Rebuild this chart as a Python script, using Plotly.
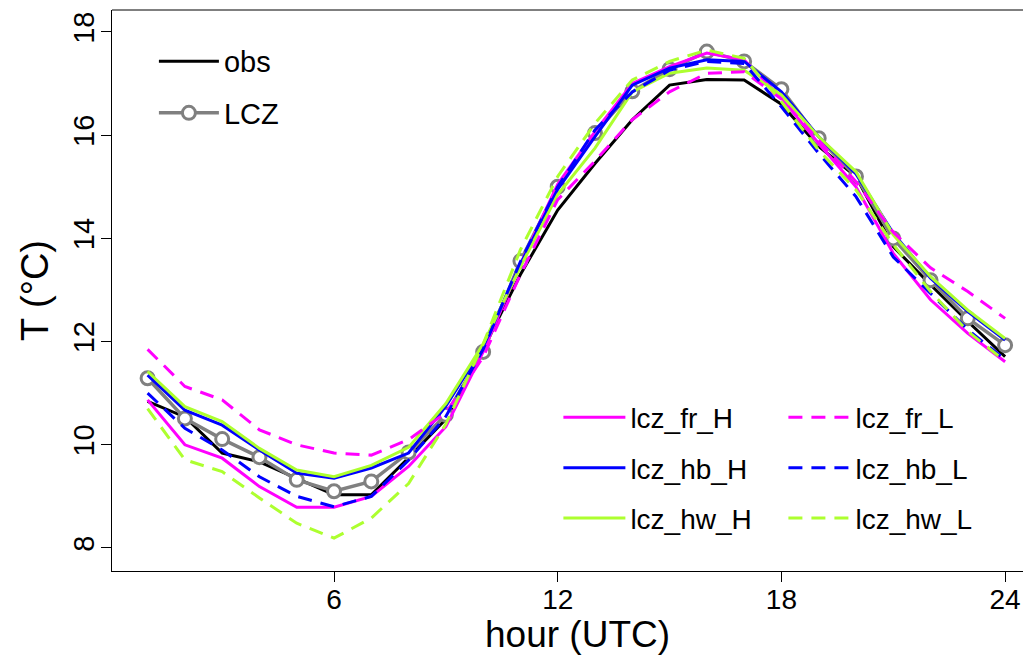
import plotly.graph_objects as go

hours = list(range(1, 25))

obs = [10.84, 10.54, 9.84, 9.67, 9.35, 9.03, 9.03, 9.75, 10.5, 11.85, 13.3, 14.55,
       15.45, 16.3, 16.97, 17.08, 17.07, 16.6, 15.78, 15.2, 13.84, 13.1, 12.39, 11.71]
lcz = [11.29, 10.51, 10.11, 9.76, 9.32, 9.10, 9.29, 9.85, 10.58, 11.80, 13.56, 15.0,
       16.04, 16.85, 17.28, 17.62, 17.43, 16.89, 15.94, 15.2, 14.0, 13.19, 12.45, 11.93]
lcz_fr_H = [10.87, 10.0, 9.74, 9.19, 8.79, 8.79, 9.0, 9.58, 10.35, 11.8, 13.5, 15.05,
            16.07, 17.0, 17.33, 17.59, 17.46, 16.72, 15.84, 15.0, 13.71, 12.81, 12.16, 11.61]
lcz_fr_L = [11.85, 11.13, 10.87, 10.29, 10.0, 9.84, 9.8, 10.1, 10.62, 11.7, 13.3, 14.75,
            15.5, 16.3, 16.84, 17.2, 17.23, 16.7, 15.9, 15.1, 14.12, 13.43, 12.97, 12.45]
lcz_hb_H = [11.35, 10.67, 10.38, 9.9, 9.45, 9.35, 9.55, 9.84, 10.75, 11.9, 13.5, 14.95,
            15.97, 16.97, 17.3, 17.46, 17.43, 16.84, 15.97, 15.25, 14.1, 13.23, 12.58, 12.03]
lcz_hb_L = [11.0, 10.32, 9.9, 9.38, 9.0, 8.8, 9.0, 9.7, 10.55, 11.85, 13.55, 15.0,
            16.1, 16.84, 17.26, 17.43, 17.39, 16.55, 15.65, 14.81, 13.64, 12.94, 12.23, 11.65]
lcz_hw_H = [11.42, 10.74, 10.45, 9.93, 9.51, 9.38, 9.6, 9.95, 10.8, 11.95, 13.45, 14.85,
            15.75, 16.84, 17.2, 17.3, 17.26, 16.78, 15.97, 15.29, 14.07, 13.26, 12.61, 12.06]
lcz_hw_L = [10.7, 9.71, 9.48, 8.97, 8.48, 8.19, 8.58, 9.25, 10.4, 11.95, 13.78, 15.2,
            16.23, 17.07, 17.43, 17.65, 17.49, 16.65, 15.71, 14.94, 13.88, 12.97, 12.2, 11.62]

x_ticks = [6, 12, 18, 24]
y_ticks = [8, 10, 12, 14, 16, 18]

MAG = "#FF00FF"
BLU = "#0000FF"
GRN = "#ADFF2F"
GRY = "#808080"
DASH = "14px,9px"
LW = 3

fig = go.Figure()

fig.add_trace(go.Scatter(x=hours, y=obs, name="obs", mode="lines",
                         line=dict(color="black", width=LW),
                         legend="legend", legendgroup="g1"))
fig.add_trace(go.Scatter(x=hours, y=lcz, name="LCZ", mode="lines+markers",
                         line=dict(color=GRY, width=3.5),
                         marker=dict(symbol="circle", size=13, color="white",
                                     line=dict(color=GRY, width=3)),
                         legend="legend", legendgroup="g2"))

models = [
    ("lcz_fr_H", lcz_fr_H, MAG, "solid", "legend2"),
    ("lcz_hb_H", lcz_hb_H, BLU, "solid", "legend2"),
    ("lcz_hw_H", lcz_hw_H, GRN, "solid", "legend2"),
    ("lcz_fr_L", lcz_fr_L, MAG, DASH, "legend3"),
    ("lcz_hb_L", lcz_hb_L, BLU, DASH, "legend3"),
    ("lcz_hw_L", lcz_hw_L, GRN, DASH, "legend3"),
]
for i, (nm, vals, col, dash, lg) in enumerate(models):
    fig.add_trace(go.Scatter(x=hours, y=vals, name=nm, mode="lines",
                             line=dict(color=col, width=LW, dash=dash),
                             legend=lg, legendgroup="m%d" % i))

FONT = "Liberation Sans, Arial, sans-serif"


def leg(x, y, size, iw, gap):
    return dict(x=x, y=y, xanchor="left", yanchor="top",
                bgcolor="rgba(0,0,0,0)", borderwidth=0,
                font=dict(family=FONT, size=size, color="black"),
                tracegroupgap=gap, itemwidth=iw,
                itemclick=False, itemdoubleclick=False)


fig.update_layout(
    width=1023, height=659,
    margin=dict(l=112, r=0, t=10, b=88),
    paper_bgcolor="white", plot_bgcolor="white",
    font=dict(family=FONT, color="black"),
    showlegend=True,
    legend=leg(0.046, 0.954, 29, 60, 11),
    legend2=leg(0.49, 0.318, 28, 62, 11),
    legend3=leg(0.737, 0.318, 28, 62, 11),
    xaxis=dict(range=[0.045, 24.48], tickmode="array", tickvals=x_ticks,
               ticktext=[str(v) for v in x_ticks],
               showgrid=False, zeroline=False, showline=True, linecolor="black",
               linewidth=1, mirror=False, ticks="outside", ticklen=10,
               tickcolor="black", tickfont=dict(size=28, family=FONT),
               ticklabelstandoff=-7),
    yaxis=dict(range=[7.554, 18.426], tickmode="array", tickvals=y_ticks,
               ticktext=[str(v) for v in y_ticks], tickangle=-90,
               showgrid=False, zeroline=False, showline=True, linecolor="black",
               linewidth=1, mirror=False, ticks="outside", ticklen=10,
               tickcolor="black", tickfont=dict(size=29, family=FONT),
               ticklabelstandoff=-5,
               title=dict(text="T (°C)", font=dict(size=38, family=FONT),
                          standoff=8)),
    shapes=[dict(type="line", xref="paper", yref="paper", x0=0, x1=1.01,
                 y0=1, y1=1, line=dict(color="black", width=1))],
    annotations=[dict(text="hour (UTC)", xref="paper", yref="paper",
                      x=0.511, y=-0.113, xanchor="center", yanchor="middle",
                      showarrow=False, font=dict(size=37, family=FONT))],
)

fig.write_html("out.html")
